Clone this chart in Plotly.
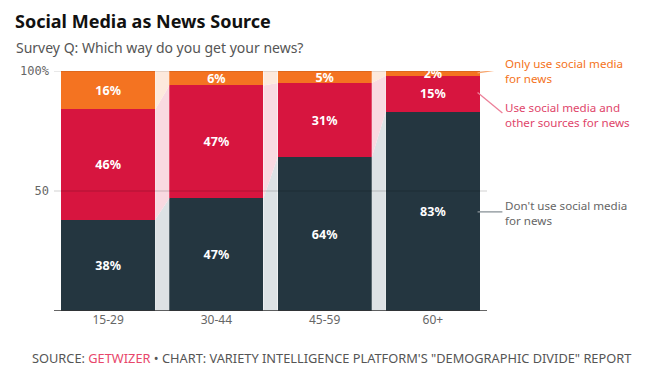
import plotly.graph_objects as go

categories = ["15-29", "30-44", "45-59", "60+"]
dont_use = [38, 47, 64, 83]
use_both = [46, 47, 31, 15]
only_social = [16, 6, 5, 2]
y_ticks = [50, 100]
y_tick_labels = ["50", "100%"]

series = [
    ("Don't use social media for news", dont_use, "#243640", "#dde2e5"),
    ("Use social media and other sources for news", use_both, "#d7153f", "#f9d9e1"),
    ("Only use social media for news", only_social, "#f47321", "#fde9dc"),
]

FONT = "Noto Sans"
BAR_W = 0.87
OFF = 8  # page body margin

fig = go.Figure()
xs = list(range(len(categories)))

# connection bands
base = [0] * len(categories)
for name, vals, col, light in series:
    top = [b + v for b, v in zip(base, vals)]
    for i in range(len(categories) - 1):
        xr = i + BAR_W / 2
        xl = i + 1 - BAR_W / 2
        fig.add_trace(go.Scatter(
            x=[xr, xr, xl, xl, xr], y=[base[i], top[i], top[i + 1], base[i + 1], base[i]],
            fill="toself", fillcolor=light, mode="lines", line=dict(width=0),
            hoverinfo="skip", showlegend=False))
    base = top

for name, vals, col, light in series:
    fig.add_trace(go.Bar(
        x=xs, y=vals, name=name, marker=dict(color=col, line=dict(width=0)),
        width=BAR_W, text=[f"{v}%" for v in vals], textposition="inside",
        insidetextanchor="middle", textangle=0,
        textfont=dict(family=FONT, size=12.5, color="white", weight="bold"),
        showlegend=False, cliponaxis=False))

L, R, T, B = 51.5 - OFF, 487.5 - OFF, 71 - OFF, 311 - OFF
fig.update_layout(
    barmode="stack",
    width=650, height=381,
    margin=dict(l=L, r=650 - R, t=T, b=381 - B),
    paper_bgcolor="white", plot_bgcolor="white",
    uniformtext=dict(minsize=12.5, mode="show"),
    xaxis=dict(range=[-0.5, 3.5], tickmode="array", tickvals=xs, ticktext=categories,
               showgrid=False, zeroline=False, showline=False, ticks="",
               tickfont=dict(family=FONT, size=12, color="#666")),
    yaxis=dict(range=[0, 100], tickmode="array", tickvals=y_ticks, ticktext=y_tick_labels,
               showgrid=False, zeroline=False,
               showline=False, ticks="", ticklabelstandoff=4,
               tickfont=dict(family="DejaVu Sans Mono", size=12, color="#666")),
    showlegend=False,
)

# gridlines drawn over the bars
for v in y_ticks:
    fig.add_shape(type="line", xref="paper", yref="y", x0=0, x1=1, y0=v, y1=v,
                  line=dict(color="rgba(0,0,0,0.18)", width=1), layer="above")
# baseline
fig.add_shape(type="line", xref="paper", yref="y", x0=0, x1=1, y0=0, y1=0,
              line=dict(color="#333", width=1.3), layer="above")

# screen px -> paper coords
px = lambda p: (p - OFF - L) / (R - L)
py = lambda p: (B - (p - OFF)) / (B - T)

fig.add_shape(type="line", xref="paper", yref="y", x0=px(478), x1=px(503), y0=99.2, y1=100.8,
              line=dict(color="#f9a870", width=1.3))
fig.add_shape(type="line", xref="paper", yref="y", x0=px(478), x1=px(503), y0=91, y1=82.5,
              line=dict(color="#ec8099", width=1.3))
fig.add_shape(type="line", xref="paper", yref="y", x0=px(478), x1=px(503), y0=41.3, y1=41.3,
              line=dict(color="#8a9499", width=1.3))

notes = [
    ("Only use social media<br>for news", "#f47321", 54),
    ("Use social media and<br>other sources for news", "#e0456a", 98),
    ("Don't use social media<br>for news", "#666", 196),
]
for txt, col, top in notes:
    fig.add_annotation(text=txt, xref="paper", yref="paper", x=px(504), y=py(top),
                       xanchor="left", yanchor="top", showarrow=False, align="left",
                       font=dict(family=FONT, size=11.6, color=col))

fig.add_annotation(text="<b>Social Media as News Source</b>", xref="paper", yref="paper",
                   x=px(10), y=py(7), xanchor="left", yanchor="top", showarrow=False,
                   font=dict(family=FONT, size=18, color="#111"))
fig.add_annotation(text="Survey Q: Which way do you get your news?", xref="paper", yref="paper",
                   x=px(11), y=py(36), xanchor="left", yanchor="top", showarrow=False,
                   font=dict(family=FONT, size=14, color="#555"))
fig.add_annotation(
    text="SOURCE: <span style='color:#e8476b'>GETWIZER</span> • CHART: VARIETY INTELLIGENCE PLATFORM'S \"DEMOGRAPHIC DIVIDE\" REPORT",
    xref="paper", yref="paper", x=px(27), y=py(347), xanchor="left", yanchor="top",
    showarrow=False, font=dict(family=FONT, size=12.8, color="#555"))

fig.write_html("out.html")
